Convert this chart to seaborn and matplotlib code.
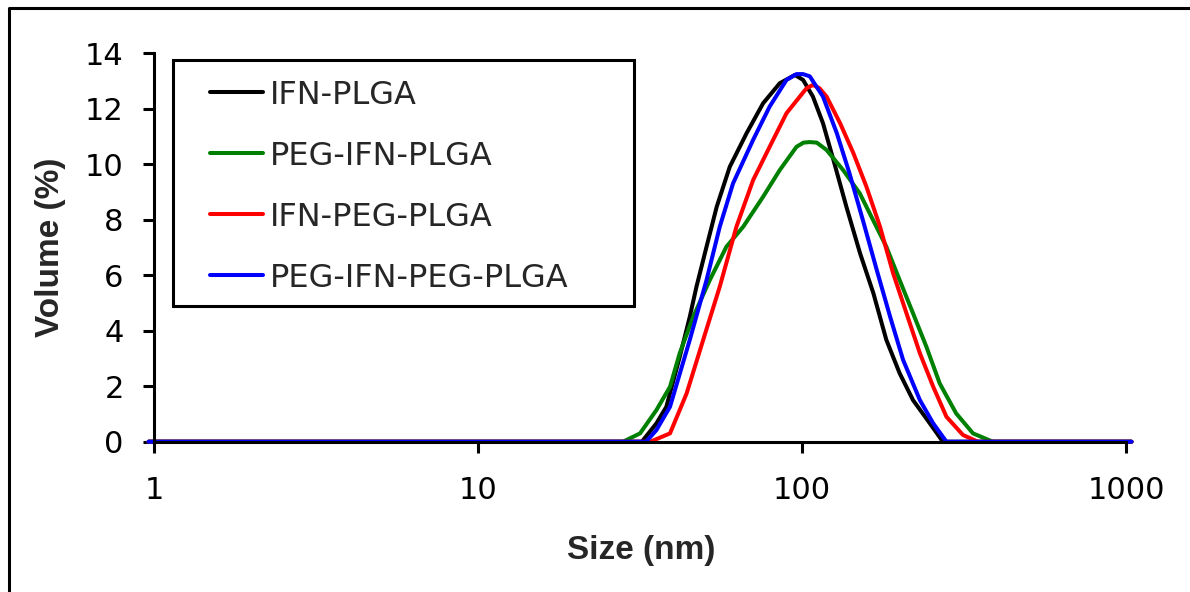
import matplotlib
matplotlib.use("Agg")
import matplotlib.pyplot as plt
from matplotlib.lines import Line2D
from matplotlib.patches import Rectangle
import seaborn as sns
import pandas as pd

# ---- data ----
series_names = ["IFN-PLGA", "PEG-IFN-PLGA", "IFN-PEG-PLGA", "PEG-IFN-PEG-PLGA"]
series_colors = ["#000000", "#008000", "#FF0000", "#0000FF"]

ifn_plga_x = [0.96, 32, 35.5, 38.1, 41.9, 45.0, 47.2, 50.7, 54.5, 59.8, 67.4, 75.8, 85.3, 95, 100.7,
              108, 116, 125, 137, 151, 166, 182, 200, 220, 248, 272, 1040]
ifn_plga_y = [0, 0, 0.66, 1.26, 3.06, 4.5, 5.59, 7.03, 8.47, 9.91, 11.12, 12.2, 12.92, 13.22, 13.04,
              12.44, 11.48, 10.15, 8.47, 6.79, 5.35, 3.67, 2.47, 1.5, 0.66, 0, 0]

peg_ifn_plga_x = [0.96, 28, 31.6, 35.5, 39.1, 41.9, 46.1, 51.9, 58.4, 65.8, 75.8, 85.3, 96.1, 101,
                  105.6, 111, 118.9, 133.9, 150.7, 165.6, 182, 200, 220, 242, 266, 299, 337, 388, 1040]
peg_ifn_plga_y = [0, 0, 0.3, 1.14, 1.98, 3.19, 4.5, 5.83, 7.03, 7.75, 8.83, 9.79, 10.63, 10.78,
                  10.8, 10.78, 10.52, 9.79, 8.95, 7.99, 7.03, 5.83, 4.63, 3.42, 2.1, 1.02, 0.3, 0, 0]

ifn_peg_plga_x = [0.96, 34, 39.1, 44, 49.5, 55.7, 62.7, 70.6, 79.4, 89.5, 98.4, 103.2, 108, 113.2,
                  119, 131, 144, 158, 174, 191, 210, 231, 254, 279, 314, 349, 1040]
ifn_peg_plga_y = [0, 0, 0.3, 1.74, 3.67, 5.59, 7.75, 9.43, 10.63, 11.84, 12.44, 12.74, 12.86, 12.74,
                  12.44, 11.48, 10.4, 9.19, 7.75, 6.07, 4.63, 3.19, 1.98, 0.9, 0.24, 0, 0]

peg_ifn_peg_plga_x = [0.96, 33, 35.5, 39.1, 45.0, 50.7, 55.7, 61.2, 70.6, 79.4, 89.5, 96.1, 100.7,
                      105.6, 116, 128, 140, 154, 170, 187, 205, 231, 254, 279, 1040]
peg_ifn_peg_plga_y = [0, 0, 0.42, 1.26, 3.67, 5.83, 7.75, 9.31, 10.88, 12.08, 13.04, 13.25, 13.25,
                      13.17, 12.44, 11.12, 9.68, 7.99, 6.19, 4.5, 2.95, 1.5, 0.66, 0, 0]

x_ticks = [1, 10, 100, 1000]
x_tick_labels = ["1", "10", "100", "1000"]
y_ticks = [0, 2, 4, 6, 8, 10, 12, 14]

# ---- build long-form table ----
frames = []
for name, xs, ys in zip(series_names,
                        [ifn_plga_x, peg_ifn_plga_x, ifn_peg_plga_x, peg_ifn_peg_plga_x],
                        [ifn_plga_y, peg_ifn_plga_y, ifn_peg_plga_y, peg_ifn_peg_plga_y]):
    frames.append(pd.DataFrame({"size": xs, "volume": ys, "sample": name}))
df = pd.concat(frames, ignore_index=True)

sns.set_style("ticks")
plt.rcParams["font.family"] = ["DejaVu Sans"]

W, H = 1190, 592
fig = plt.figure(figsize=(W / 100, H / 100), dpi=100)
ax = fig.add_axes([154.3 / W, 1 - 441.7 / H, (1126 - 154.3) / W, (441.7 - 53.3) / H])

sns.lineplot(data=df, x="size", y="volume", hue="sample", hue_order=series_names,
             palette=series_colors, estimator=None, sort=True, linewidth=2.9,
             ax=ax, legend=False, clip_on=False)

ax.set_xscale("log")
ax.set_xlim(1, 1000)
ax.set_ylim(0, 14)
ax.set_xticks(x_ticks)
ax.set_xticklabels(x_tick_labels)
ax.set_yticks(y_ticks)
ax.minorticks_off()
ax.tick_params(axis="both", direction="out", length=8, width=2.2, labelsize=22, colors="black")
ax.tick_params(axis="y", pad=14)
ax.tick_params(axis="x", pad=17)

for side in ["top", "right"]:
    ax.spines[side].set_visible(False)
for side in ["left", "bottom"]:
    ax.spines[side].set_linewidth(2.2)
    ax.spines[side].set_color("black")

ax.set_xlabel("")
ax.set_ylabel("")
fig.text(641 / W, 1 - 550 / H, "Size (nm)", family="Liberation Sans", fontweight="bold",
         fontsize=24, ha="center", va="center")
fig.text(50 / W, 1 - 247 / H, "Volume (%)", family="Liberation Sans", fontweight="bold",
         fontsize=24, ha="center", va="center", rotation=90)

# legend box
fig.add_artist(Rectangle((173 / W, 1 - 306 / H), (634 - 173) / W, (306 - 60) / H,
                         transform=fig.transFigure, facecolor="white", edgecolor="black",
                         linewidth=2.2, zorder=5))
handles = [Line2D([0], [0], color=c, linewidth=2.9) for c in series_colors]
leg = fig.legend(handles, series_names, loc="upper left",
                 bbox_to_anchor=(210 / W, 1 - 79.5 / H), bbox_transform=fig.transFigure,
                 frameon=False, fontsize=23, handlelength=1.66, handletextpad=0.22,
                 labelspacing=0.94, borderpad=0, borderaxespad=0)
leg.set_zorder(6)

# outer frame (left and top edges)
fig.add_artist(Line2D([8.5 / W, 8.5 / W, 1.0], [0.0, 1 - 7.5 / H, 1 - 7.5 / H],
                      transform=fig.transFigure, color="black", linewidth=2.2))

fig.savefig("out.png", dpi=100)
